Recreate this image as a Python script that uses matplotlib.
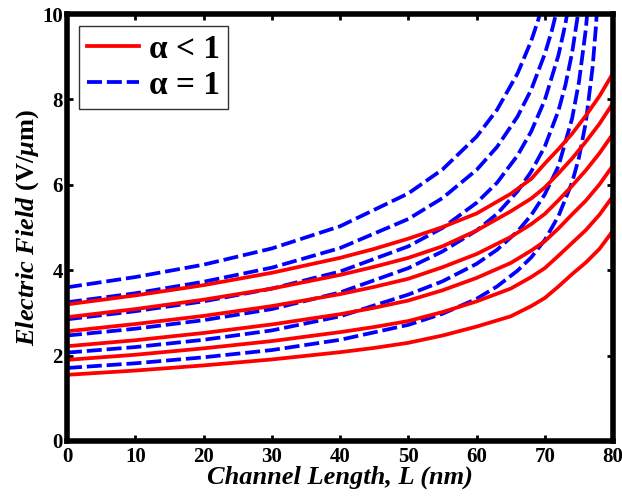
import matplotlib
matplotlib.use('Agg')
import matplotlib.pyplot as plt

plt.rcParams['font.family'] = ['Liberation Serif', 'DejaVu Serif']
plt.rcParams['font.weight'] = 'bold'
plt.rcParams['mathtext.fontset'] = 'custom'
plt.rcParams['mathtext.rm'] = 'Liberation Serif:bold'
plt.rcParams['mathtext.it'] = 'Liberation Serif:italic:bold'
plt.rcParams['mathtext.bf'] = 'Liberation Serif:bold'

# alpha < 1 (red, solid)
red_x = [0, 10, 20, 30, 40, 45, 50, 55, 60, 65, 68, 70, 72, 74, 76, 78, 80]
red_1 = [3.20, 3.41, 3.65, 3.94, 4.29, 4.50, 4.74, 5.01, 5.33, 5.79, 6.14, 6.50, 6.84, 7.20, 7.62, 8.08, 8.62]
red_2 = [2.90, 3.09, 3.31, 3.57, 3.89, 4.08, 4.29, 4.56, 4.93, 5.38, 5.68, 5.94, 6.27, 6.62, 7.01, 7.43, 7.92]
red_3 = [2.57, 2.74, 2.93, 3.16, 3.44, 3.61, 3.80, 4.07, 4.38, 4.78, 5.08, 5.32, 5.64, 5.98, 6.34, 6.74, 7.20]
red_4 = [2.22, 2.36, 2.53, 2.73, 2.97, 3.12, 3.29, 3.53, 3.82, 4.17, 4.46, 4.68, 4.98, 5.31, 5.63, 6.01, 6.46]
red_5 = [1.90, 2.02, 2.17, 2.34, 2.55, 2.67, 2.81, 3.02, 3.27, 3.57, 3.84, 4.05, 4.34, 4.64, 4.94, 5.30, 5.74]
red_6 = [1.55, 1.65, 1.77, 1.91, 2.08, 2.18, 2.30, 2.47, 2.68, 2.92, 3.16, 3.35, 3.62, 3.91, 4.18, 4.50, 4.93]

# alpha = 1 (blue, dashed)
blue_1_x = [0, 10, 20, 30, 40, 50, 55, 60, 63, 66, 68, 69, 70]
blue_1 = [3.60, 3.84, 4.13, 4.51, 5.03, 5.80, 6.36, 7.13, 7.76, 8.61, 9.37, 9.85, 10.4]
blue_2_x = [0, 10, 20, 30, 40, 50, 55, 60, 63, 66, 68, 70, 71, 72]
blue_2 = [3.25, 3.46, 3.73, 4.06, 4.52, 5.20, 5.69, 6.35, 6.89, 7.60, 8.23, 9.07, 9.60, 10.24]
blue_3_x = [0, 10, 20, 30, 40, 50, 55, 60, 63, 66, 68, 70, 72, 73, 74]
blue_3 = [2.85, 3.04, 3.27, 3.57, 3.97, 4.56, 4.99, 5.58, 6.05, 6.69, 7.25, 7.99, 9.04, 9.76, 10.7]
blue_4_x = [0, 10, 20, 30, 40, 50, 55, 60, 63, 66, 68, 70, 72, 73, 74, 75]
blue_4 = [2.47, 2.63, 2.83, 3.09, 3.48, 4.05, 4.44, 4.93, 5.32, 5.85, 6.31, 6.90, 7.74, 8.33, 9.10, 10.15]
blue_5_x = [0, 10, 20, 30, 40, 50, 55, 60, 63, 66, 68, 70, 72, 74, 75, 76, 76.5]
blue_5 = [2.07, 2.20, 2.37, 2.59, 2.92, 3.43, 3.74, 4.15, 4.48, 4.91, 5.29, 5.78, 6.44, 7.56, 8.41, 9.64, 10.54]
blue_6_x = [0, 10, 20, 30, 40, 50, 55, 60, 63, 66, 68, 70, 72, 74, 75, 76, 77, 77.5, 78]
blue_6 = [1.71, 1.82, 1.96, 2.13, 2.37, 2.72, 2.98, 3.33, 3.62, 3.99, 4.30, 4.71, 5.27, 6.06, 6.64, 7.46, 8.76, 9.74, 11.2]

fig = plt.figure(figsize=(6.22, 5.01), dpi=100)
ax = fig.add_axes([0.1077, 0.1198, 0.878, 0.852])

reds = [red_1, red_2, red_3, red_4, red_5, red_6]
blues = [(blue_1_x, blue_1), (blue_2_x, blue_2), (blue_3_x, blue_3),
         (blue_4_x, blue_4), (blue_5_x, blue_5), (blue_6_x, blue_6)]

blue_lines = []
for bx, by in blues:
    ln, = ax.plot(bx, by, color='blue', lw=2.7, ls=(0, (4.0, 1.3)))
    blue_lines.append(ln)
red_lines = []
for ry in reds:
    ln, = ax.plot(red_x, ry, color='red', lw=2.7)
    red_lines.append(ln)

ax.set_xlim(0, 80)
ax.set_ylim(0, 10)
ax.set_xticks(range(0, 81, 10))
ax.set_yticks(range(0, 11, 2))
ax.tick_params(direction='in', length=4, width=2, top=True, right=True,
               labelsize=15)
ax.tick_params(axis='x', pad=4)
ax.tick_params(axis='y', pad=3)
for lab in ax.get_xticklabels() + ax.get_yticklabels():
    lab.set_fontweight('bold')
for sp in ax.spines.values():
    sp.set_linewidth(4)

ax.set_xlabel('Channel Length, L (nm)', fontsize=19, style='italic',
              fontweight='bold', labelpad=-1)
ax.set_ylabel(r'$\mathit{Electric\ Field}$ (V/$\mu$m)', fontsize=19,
              fontweight='bold', labelpad=1)

leg = ax.legend([red_lines[0], blue_lines[0]], ['α < 1', 'α = 1'],
                loc='upper left', prop={'size': 24, 'weight': 'bold'},
                frameon=True, fancybox=False, edgecolor='black',
                handlelength=1.55, borderaxespad=0.35, labelspacing=0.15,
                handletextpad=0.3, borderpad=0.25)
leg.get_frame().set_linewidth(1.0)

fig.savefig('out.png', dpi=100)
